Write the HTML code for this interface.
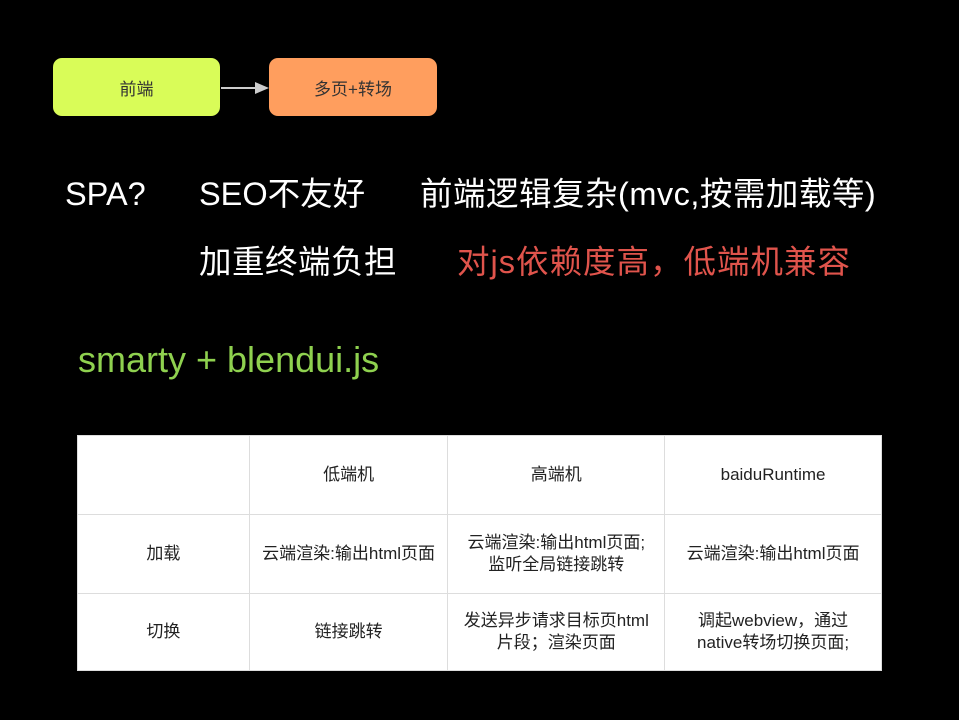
<!DOCTYPE html>
<html><head><meta charset="utf-8"><style>
*{margin:0;padding:0;box-sizing:border-box}
body{width:959px;height:720px;background:#000;position:relative;overflow:hidden;font-family:"Liberation Sans","Noto Sans CJK SC",sans-serif}
.t{position:absolute;white-space:nowrap;line-height:40px;font-size:32.5px;color:#fff}
.box{position:absolute;top:58px;height:58px;border-radius:9px;display:flex;align-items:center;justify-content:center;font-size:17px;color:#333}
table{position:absolute;left:77px;top:435px;width:805px;height:235px;border-collapse:collapse;background:#fff;font-size:17px;color:#222}
td{border:1px solid #ddd;text-align:center;vertical-align:middle;line-height:22px}
</style></head><body>
<div class="box" style="left:53px;width:167px;background:#d9fc58">前端</div>
<svg style="position:absolute;left:220px;top:80px" width="50" height="16"><line x1="1" y1="8" x2="36" y2="8" stroke="#ccc" stroke-width="2"/><polygon points="35,2 49,8 35,14" fill="#ccc"/></svg>
<div class="box" style="left:269px;width:168px;background:#ff9e5e">多页+转场</div>
<div class="t" style="left:65px;top:174px">SPA?</div>
<div class="t" style="left:199px;top:174px">SEO不友好</div>
<div class="t" style="left:420px;top:174px;letter-spacing:0.5px">前端逻辑复杂(mvc,按需加载等)</div>
<div class="t" style="left:199px;top:242px;letter-spacing:0.5px">加重终端负担</div>
<div class="t" style="left:457px;top:242px;color:#e0544c;letter-spacing:1px">对js依赖度高，低端机兼容</div>
<div class="t" style="left:78px;top:340px;color:#8fd14f;font-size:36px">smarty + blendui.js</div>
<table>
<colgroup><col style="width:172px"><col style="width:199px"><col style="width:217px"><col style="width:217px"></colgroup>
<tr style="height:79px"><td></td><td>低端机</td><td>高端机</td><td>baiduRuntime</td></tr>
<tr style="height:79px"><td>加载</td><td>云端渲染:输出html页面</td><td>云端渲染:输出html页面;<br>监听全局链接跳转</td><td>云端渲染:输出html页面</td></tr>
<tr style="height:77px"><td>切换</td><td>链接跳转</td><td>发送异步请求目标页html<br>片段；渲染页面</td><td>调起webview，通过<br>native转场切换页面;</td></tr>
</table>
</body></html>
